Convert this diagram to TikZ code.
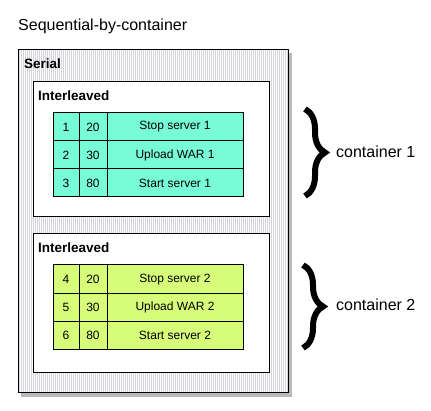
\documentclass[tikz,border=0pt]{standalone}
\usepackage{fontspec}
\setmainfont{Liberation Sans}
\usetikzlibrary{decorations.pathreplacing}
\definecolor{mint}{HTML}{78FCD6}
\definecolor{lime}{HTML}{D6FC7A}
\definecolor{stripe}{HTML}{D6D2DA}
\tikzset{
  boxline/.style={draw=black, line width=1pt},
  cell/.style={font=\fontsize{12}{13}\selectfont, anchor=center, inner sep=0pt},
  hdr/.style={font=\fontsize{13.5}{14}\selectfont\bfseries, anchor=base west, inner sep=0pt},
  lbl/.style={font=\fontsize{16}{18}\selectfont, anchor=base west, inner sep=0pt},
  bigbrace/.style={decorate, decoration={brace, amplitude=20pt}, line width=6pt, line cap=butt},
}
\begin{document}
\begin{tikzpicture}[x=1pt,y=-1pt]
\useasboundingbox (0,0) rectangle (431,411);
\fill[white] (0,0) rectangle (431,411);
% title
\node[lbl] (title) at (18,31) {Sequential-by-container};
% serial box with shadow and stripes
\fill[gray!55] (21,53) rectangle (292,397);
\fill[white] (18,50) rectangle (288,393);
\foreach \x in {19,21,...,287} \fill[stripe] (\x,50) rectangle (\x+1,393);
\draw[boxline] (18,50) rectangle (288,393);
\node[hdr] (serial) at (24,69) {Serial};
% interleaved boxes
\draw[boxline, fill=white] (33,82) rectangle (269,217);
\node[hdr] (il1) at (38,101) {Interleaved};
\draw[boxline, fill=white] (33,234) rectangle (269,373);
\node[hdr] (il2) at (38,253) {Interleaved};
% table 1
\foreach \r/\a/\b/\c in {0/1/20/Stop server 1,1/2/30/Upload WAR 1,2/3/80/Start server 1}{
  \pgfmathsetmacro{\yt}{113+28*\r}
  \draw[boxline, fill=mint] (53,\yt) rectangle (79,\yt+28);
  \draw[boxline, fill=mint] (79,\yt) rectangle (107,\yt+28);
  \draw[boxline, fill=mint] (107,\yt) rectangle (243,\yt+28);
  \node[cell] (ta\r) at (66,\yt+14) {\a};
  \node[cell] (tb\r) at (93,\yt+14) {\b};
  \node[cell] (tc\r) at (175,\yt+14) {\c};
}
% table 2
\foreach \r/\a/\b/\c in {0/4/20/Stop server 2,1/5/30/Upload WAR 2,2/6/80/Start server 2}{
  \pgfmathsetmacro{\yt}{265+28.3*\r}
  \draw[boxline, fill=lime] (53,\yt) rectangle (79,\yt+28.3);
  \draw[boxline, fill=lime] (79,\yt) rectangle (107,\yt+28.3);
  \draw[boxline, fill=lime] (107,\yt) rectangle (243,\yt+28.3);
  \node[cell] (ua\r) at (66,\yt+14.2) {\a};
  \node[cell] (ub\r) at (93,\yt+14.2) {\b};
  \node[cell] (uc\r) at (175,\yt+14.2) {\c};
}
% braces
\coordinate (b1t) at (305,109);
\coordinate (b1b) at (305,196);
\draw[bigbrace] (b1t) -- (b1b);
\node[lbl] (c1) at (336,158) {container 1};
\coordinate (b2t) at (303,265);
\coordinate (b2b) at (303,348);
\draw[bigbrace] (b2t) -- (b2b);
\node[lbl] (c2) at (336,311) {container 2};
\end{tikzpicture}
\end{document}
